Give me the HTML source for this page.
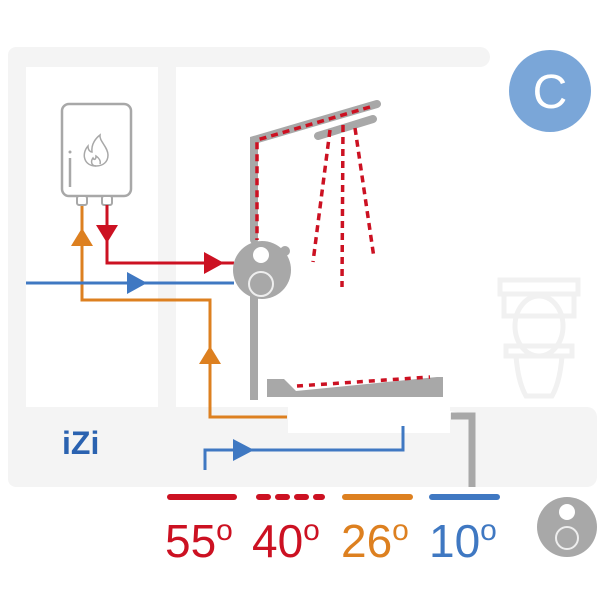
<!DOCTYPE html>
<html><head><style>body{margin:0;background:#fff}svg{display:block}</style></head><body>
<svg width="600" height="600" viewBox="0 0 600 600" xmlns="http://www.w3.org/2000/svg">
<!-- frame -->
<rect x="8" y="47" width="482" height="20" rx="10" fill="#f4f4f4"/>
<rect x="8" y="47" width="18" height="440" rx="8" fill="#f4f4f4"/>
<rect x="158" y="60" width="18" height="350" fill="#f4f4f4"/>
<rect x="8" y="407" width="589" height="80" rx="10" fill="#f4f4f4"/>
<rect x="288" y="407" width="162" height="26" fill="#fff"/>
<polygon points="432,407 460,413 450,413" fill="#fff"/>
<!-- toilet -->
<g fill="none" stroke="#f1f1f1" stroke-width="5">
<rect x="500" y="280" width="78" height="14"/>
<path d="M504 294 v22 h70 v-22"/>
<ellipse cx="539" cy="326" rx="24" ry="30"/>
<path d="M506 346 h66 v10 h-66z"/>
<path d="M516 356 q2 26 10 40 h26 q8-14 10-40"/>
</g>
<!-- heater -->
<rect x="62" y="104" width="69" height="92" rx="7" fill="#fff" stroke="#a8a8a8" stroke-width="2.5"/>
<line x1="70" y1="158" x2="70" y2="187" stroke="#a8a8a8" stroke-width="2.5"/>
<circle cx="70" cy="152" r="1.5" fill="#a8a8a8"/>
<path d="M96 166 c-12 0 -15 -12 -8 -20 c0 5 3 6 4 6 c-1 -8 4 -14 8 -17 c-1 6 8 12 8 20 c0 7 -5 11 -12 11z" fill="none" stroke="#a8a8a8" stroke-width="1.5"/>
<path d="M96 166 c-4 0 -6 -4 -3 -8 c1 2 3 2 3 -2 c3 2 5 5 4 8" fill="none" stroke="#a8a8a8" stroke-width="1.5"/>
<rect x="77" y="196" width="10" height="9" rx="2" fill="#fff" stroke="#a8a8a8" stroke-width="2"/>
<rect x="102" y="196" width="10" height="9" rx="2" fill="#fff" stroke="#a8a8a8" stroke-width="2"/>
<!-- shower pipes -->
<g stroke="#a8a8a8" stroke-width="8" stroke-linecap="round" fill="none">
<polyline points="377,104 254,140 254,240"/>
<line x1="318" y1="136" x2="373" y2="119"/>
</g>
<line x1="254" y1="290" x2="254" y2="400" stroke="#a8a8a8" stroke-width="8"/>
<g stroke="#cc1122" stroke-width="3.5" stroke-dasharray="7,5" fill="none">
<polyline points="370,107 257,140 257,240"/>
<line x1="330" y1="130" x2="313" y2="262"/>
<line x1="343" y1="125" x2="342" y2="287"/>
<line x1="355" y1="128" x2="374" y2="258"/>
</g>
<!-- tub -->
<polygon points="267,379 284,379 296,391 437,377 443,377 443,397 267,397" fill="#a8a8a8"/>
<line x1="297" y1="386" x2="430" y2="377" stroke="#cc1122" stroke-width="3.5" stroke-dasharray="6,6"/>
<!-- pipes -->
<polyline points="82,206 82,300 210,300 210,417 287,417" fill="none" stroke="#dd8020" stroke-width="3"/>
<polygon points="82,228 71,246 93,246" fill="#dd8020"/>
<polygon points="210,346 199,364 221,364" fill="#dd8020"/>
<polyline points="107,205 107,263 234,263" fill="none" stroke="#cc1122" stroke-width="3"/>
<polygon points="96,225 118,225 107,243" fill="#cc1122"/>
<polygon points="204,252 204,274 224,263" fill="#cc1122"/>
<line x1="26" y1="283" x2="234" y2="283" stroke="#3f78c2" stroke-width="3"/>
<polygon points="127,272 127,294 147,283" fill="#3f78c2"/>
<polyline points="205,470 205,450 403,450 403,426" fill="none" stroke="#3f78c2" stroke-width="3"/>
<polygon points="233,439 233,461 254,450" fill="#3f78c2"/>
<polyline points="451,416 472,416 472,487" fill="none" stroke="#a8a8a8" stroke-width="7"/>
<!-- valve -->
<circle cx="285" cy="251" r="5" fill="#a8a8a8"/>
<circle cx="262" cy="270" r="29" fill="#a8a8a8"/>
<circle cx="261" cy="255" r="8" fill="#fff"/>
<circle cx="261" cy="284" r="12" fill="none" stroke="#eee" stroke-width="2"/>
<!-- C -->
<circle cx="550" cy="91" r="41" fill="#7aa6d8"/>
<text x="550" y="108" font-family="Liberation Sans, sans-serif" font-size="48" fill="#fff" text-anchor="middle">C</text>
<!-- logo -->
<text x="62" y="454" font-family="Liberation Sans, sans-serif" font-size="32" font-weight="bold" fill="#2a62b0">iZi</text>
<!-- legend -->
<line x1="170" y1="497" x2="234" y2="497" stroke="#cc1122" stroke-width="6" stroke-linecap="round"/>
<line x1="259" y1="497" x2="322" y2="497" stroke="#cc1122" stroke-width="6" stroke-linecap="round" stroke-dasharray="9,10"/>
<line x1="345" y1="497" x2="410" y2="497" stroke="#dd8020" stroke-width="6" stroke-linecap="round"/>
<line x1="432" y1="497" x2="497" y2="497" stroke="#3f78c2" stroke-width="6" stroke-linecap="round"/>
<g font-family="Liberation Sans, sans-serif" font-size="46">
<text x="165" y="557" fill="#cc1122">55<tspan font-size="30" dy="-17">o</tspan></text>
<text x="252" y="557" fill="#cc1122">40<tspan font-size="30" dy="-17">o</tspan></text>
<text x="341" y="557" fill="#dd8020">26<tspan font-size="30" dy="-17">o</tspan></text>
<text x="429" y="557" fill="#3f78c2">10<tspan font-size="30" dy="-17">o</tspan></text>
</g>
<circle cx="567" cy="527" r="30" fill="#a8a8a8"/>
<circle cx="567" cy="512" r="8" fill="#fff"/>
<circle cx="567" cy="538" r="11" fill="none" stroke="#eee" stroke-width="2"/>
</svg>
</body></html>
